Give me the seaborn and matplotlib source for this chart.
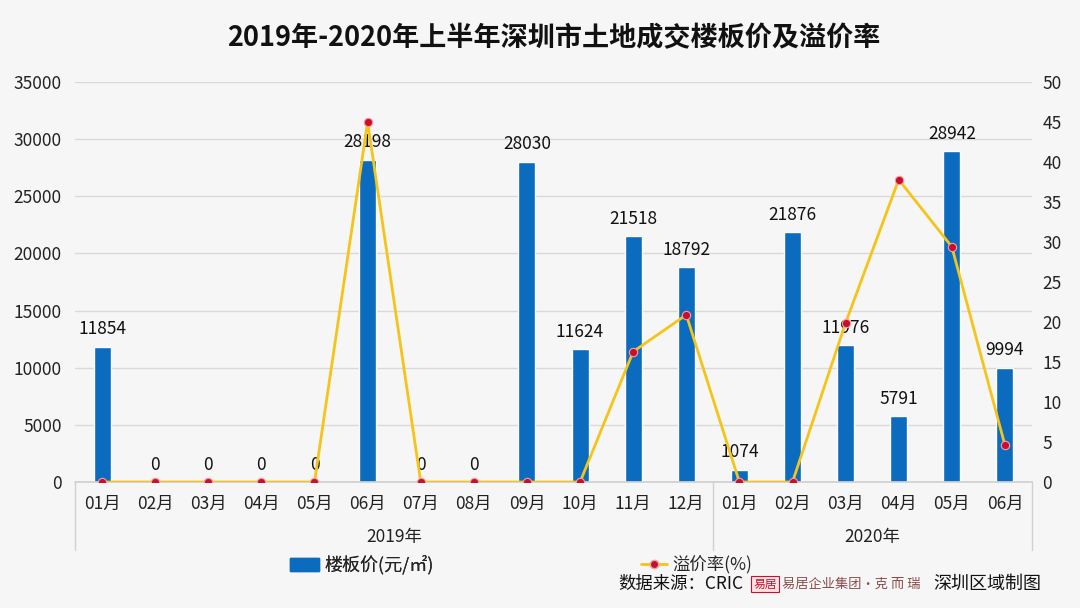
import numpy as np
import pandas as pd
import matplotlib
matplotlib.use("Agg")
import matplotlib.pyplot as plt
import seaborn as sns
from matplotlib.lines import Line2D
from matplotlib.patches import Patch
import matplotlib.transforms as mtransforms

# ---- data ----
months = ["01月", "02月", "03月", "04月", "05月", "06月", "07月", "08月", "09月", "10月", "11月", "12月",
          "01月", "02月", "03月", "04月", "05月", "06月"]
years = ["2019年"] * 12 + ["2020年"] * 6
price = [11854, 0, 0, 0, 0, 28198, 0, 0, 28030, 11624, 21518, 18792,
         1074, 21876, 11976, 5791, 28942, 9994]
premium = [0, 0, 0, 0, 0, 45, 0, 0, 0, 0, 16.3, 20.9,
           0, 0, 19.9, 37.8, 29.4, 4.6]
year_groups = ["2019年", "2020年"]

df = pd.DataFrame({"key": [f"{y}{m}" for y, m in zip(years, months)],
                   "month": months, "year": years,
                   "price": price, "premium": premium})
df["pos"] = np.arange(len(df))

BG = "#f6f6f6"
BLUE = "#0b6bbf"
YELLOW = "#f4c518"
RED = "#c8102e"

sns.set_theme(style="white")
plt.rcParams["font.family"] = ["Noto Sans CJK SC", "DejaVu Sans"]
plt.rcParams["axes.unicode_minus"] = False

fig = plt.figure(figsize=(10.8, 6.08), dpi=100, facecolor=BG)
ax = fig.add_axes([0.0699, 0.2072, 0.8852, 0.6579])
ax.set_facecolor(BG)

sns.barplot(data=df, x="key", y="price", color=BLUE, width=0.32,
            saturation=1, ax=ax, zorder=2)
ax.set_ylim(0, 35000)
ax.set_xlim(-0.5, len(df) - 0.5)
ax.set_yticks(np.arange(0, 35001, 5000))
ax.yaxis.grid(True, color="#d9d9d9", linewidth=1)
ax.set_axisbelow(True)
for s in ["top", "right", "left"]:
    ax.spines[s].set_visible(False)
ax.spines["bottom"].set_color("#d0d0d0")
ax.set_xlabel("")
ax.set_ylabel("")
ax.set_xticks(range(len(df)))
ax.set_xticklabels(months)
ax.tick_params(axis="x", length=0, pad=9, labelsize=12.5, labelcolor="#222222")
ax.tick_params(axis="y", length=0, pad=10, labelsize=12.5, labelcolor="#222222")

ax.bar_label(ax.containers[0], fmt="%d", padding=6, fontsize=12.5, color="#111111")

ax2 = ax.twinx()
sns.lineplot(data=df, x="pos", y="premium", color=YELLOW, linewidth=2,
             marker="o", markersize=6, markerfacecolor=RED,
             markeredgecolor="#f3a0a0", markeredgewidth=0.8, ax=ax2, zorder=3)
ax2.set_ylim(0, 50)
ax2.set_yticks(np.arange(0, 51, 5))
ax2.set_xlim(-0.5, len(df) - 0.5)
for s in ["top", "right", "left", "bottom"]:
    ax2.spines[s].set_visible(False)
ax2.set_xlabel("")
ax2.set_ylabel("")
ax2.tick_params(axis="y", length=0, pad=8, labelsize=12.5, labelcolor="#222222")
ax2.grid(False)

# two-level category axis
trans = mtransforms.blended_transform_factory(ax.transData, ax.transAxes)
n19 = years.count("2019年")
for xb in [-0.5, n19 - 0.5, len(df) - 0.5]:
    ax.plot([xb, xb], [0, -0.17], transform=trans, color="#d0d0d0",
            linewidth=1, clip_on=False)
for yg in year_groups:
    idx = [i for i, y in enumerate(years) if y == yg]
    ax.text((idx[0] + idx[-1]) / 2, -0.137, yg, transform=trans, ha="center",
            va="center", fontsize=12.5, color="#222222")

# title
fig.text(554 / 1080, 0.937, "2019年-2020年上半年深圳市土地成交楼板价及溢价率",
         ha="center", va="center", fontsize=19.5, fontweight="bold", color="#111111")

# legend (two entries placed apart)
leg1 = fig.legend([Patch(facecolor=BLUE, edgecolor=BLUE)], ["楼板价(元/㎡)"],
                  loc="center left", bbox_to_anchor=(290 / 1080, 1 - 565 / 608),
                  frameon=False, fontsize=13, handlelength=1.6, handleheight=0.8,
                  handletextpad=0.3, borderpad=0, borderaxespad=0)
fig.add_artist(leg1)
leg2 = fig.legend([Line2D([0], [0], color=YELLOW, linewidth=2, marker="o", markersize=6,
                          markerfacecolor=RED, markeredgecolor="#f3a0a0")],
                  ["溢价率(%)"],
                  loc="center left", bbox_to_anchor=(641 / 1080, 1 - 565 / 608),
                  frameon=False, fontsize=12.5, handlelength=1.5,
                  handletextpad=0.3, borderpad=0, borderaxespad=0)

# footer
fig.text(618 / 1080, 1 - 584 / 608, "数据来源：CRIC", ha="left", va="center", fontsize=12.5,
         color="#111111")
fig.text(765 / 1080, 1 - 584 / 608, "易居", ha="center", va="center", fontsize=8.5,
         color="#c8102e",
         bbox=dict(boxstyle="square,pad=0.15", facecolor="#fbe3e3", edgecolor="#c8102e",
                   linewidth=0.8))
fig.text(782 / 1080, 1 - 584 / 608, "易居企业集团·克 而 瑞", ha="left", va="center",
         fontsize=9.5, color="#8a4a4a")
fig.text(933 / 1080, 1 - 584 / 608, "深圳区域制图", ha="left", va="center", fontsize=13,
         color="#111111")

fig.savefig("out.png", dpi=100, facecolor=BG)
